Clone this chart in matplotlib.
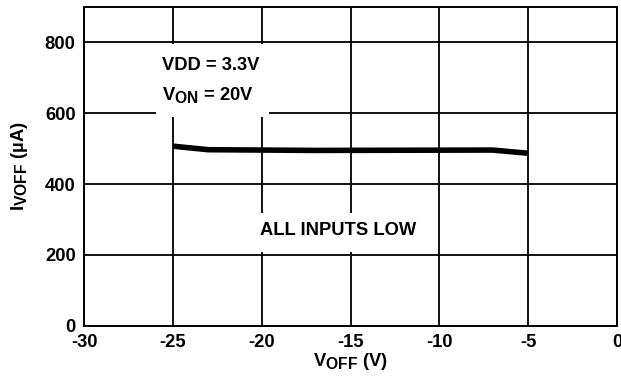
import matplotlib
matplotlib.use("Agg")
import matplotlib.pyplot as plt
from matplotlib import _mathtext
from matplotlib.patches import Rectangle

# Supply current vs. VOFF
v_off = [-25, -23, -17, -7, -5]
i_voff = [507, 497, 495, 496, 487]

x_ticks = [-30, -25, -20, -15, -10, -5, 0]
y_ticks = [0, 200, 400, 600, 800]

plt.rcParams["font.family"] = ["Liberation Sans", "DejaVu Sans"]
plt.rcParams["font.weight"] = "bold"
plt.rcParams["mathtext.fontset"] = "custom"
plt.rcParams["mathtext.rm"] = "Liberation Sans:bold"
plt.rcParams["mathtext.it"] = "Liberation Sans:bold"
plt.rcParams["mathtext.bf"] = "Liberation Sans:bold"
# larger subscripts, as in datasheet-style labels
_mathtext.SHRINK_FACTOR = 0.85

FS = 13.2

fig = plt.figure(figsize=(6.21, 3.77), dpi=100)
ax = fig.add_axes([84 / 621, 1 - 325.7 / 377, 533 / 621, 318.7 / 377])

ax.set_xlim(-30, 0)
ax.set_ylim(0, 900)
ax.set_xticks(x_ticks)
ax.set_yticks(y_ticks)
ax.set_xticklabels([str(t) for t in x_ticks], fontsize=FS, fontweight="bold")
ax.set_yticklabels([str(t) for t in y_ticks], fontsize=FS, fontweight="bold")
ax.tick_params(axis="both", length=0)
ax.tick_params(axis="x", pad=6)
ax.tick_params(axis="y", pad=6)

ax.grid(True, color="black", linewidth=1.3, zorder=1)
ax.set_axisbelow(True)
for s in ax.spines.values():
    s.set_linewidth(1.4)
    s.set_zorder(5)

ax.plot(v_off, i_voff, color="black", linewidth=4.0, solid_capstyle="butt", zorder=4)

# white panels behind the annotations
ax.add_patch(Rectangle((-25.95, 589), 6.35, 206, facecolor="white",
                       edgecolor="none", zorder=2))
ax.add_patch(Rectangle((-20.3, 208), 9.2, 110, facecolor="white",
                       edgecolor="none", zorder=2))

ax.text(-25.6, 736, "VDD = 3.3V", fontsize=FS, fontweight="bold",
        ha="left", va="center", zorder=3)
ax.text(-25.6, 637, r"$\mathrm{V_{ON}}$ = 20V", fontsize=FS, fontweight="bold",
        ha="left", va="baseline", zorder=3)
ax.text(-15.68, 270, "ALL INPUTS LOW", fontsize=FS, fontweight="bold",
        ha="center", va="center", zorder=3)

ax.set_xlabel(r"$\mathrm{V_{OFF}}$ (V)", fontsize=FS, fontweight="bold", labelpad=0)
ax.set_ylabel(r"$\mathrm{I_{VOFF}}$ (µA)", fontsize=FS, fontweight="bold", labelpad=11)

fig.savefig("out.png", dpi=100)
